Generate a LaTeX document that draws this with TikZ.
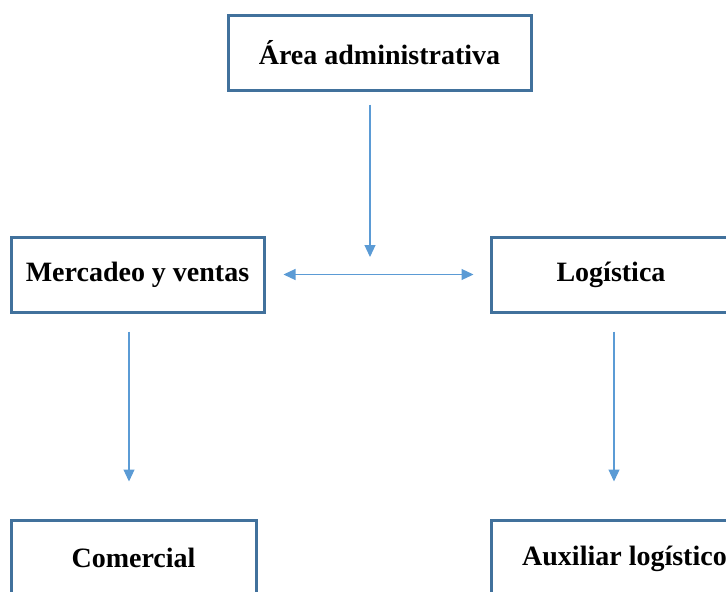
\documentclass[tikz,border=0pt]{standalone}
\usepackage{fontspec}
\setmainfont{Liberation Serif}
\usetikzlibrary{arrows.meta}
\definecolor{boxblue}{HTML}{41719C}
\definecolor{arrowblue}{HTML}{5B9BD5}
\begin{document}
\begin{tikzpicture}[x=1pt,y=-1pt,
  orgbox/.style={draw=boxblue,line width=3pt,fill=white,rectangle,inner sep=0pt,
    font=\fontsize{28}{32}\selectfont\bfseries},
  conn/.style={draw=arrowblue,line width=1.2pt,-{Triangle[length=12pt,width=11pt]}},
  conn2/.style={draw=arrowblue,line width=1.2pt,{Triangle[length=12pt,width=11pt]}-{Triangle[length=12pt,width=11pt]}}]
\useasboundingbox (0,0) rectangle (726,592);
\clip (0,0) rectangle (726,592);
\node[orgbox,minimum width=303pt,minimum height=75pt] (top) at (379.5,52.5) {Área administrativa};
\node[orgbox,minimum width=253pt,minimum height=75pt] (merc) at (137.5,274.5) {Mercadeo y ventas};
\node[orgbox,minimum width=240pt,minimum height=75pt] (log) at (611,274.5) {Logística};
\node[orgbox,minimum width=245pt,minimum height=75pt] (com) at (133.5,557.5) {Comercial};
\node[orgbox,minimum width=300pt,minimum height=75pt] (aux) at (641,557.5) {};
\node[font=\fontsize{28}{32}\selectfont\bfseries,anchor=west,inner sep=0pt] (auxt) at (522,558.5) {Auxiliar logístico};
\coordinate (j) at (370,274);
\coordinate (cl) at (129,300);
\coordinate (cr) at (614,300);
\draw[conn] ([yshift=-13pt]top.south -| j) -- ([yshift=17pt]j);
\draw[conn2] ([xshift=18pt]merc.east) -- ([xshift=-16pt]log.west);
\draw[conn] ([yshift=-18pt]merc.south -| cl) -- ([yshift=37pt]com.north -| cl);
\draw[conn] ([yshift=-18pt]log.south -| cr) -- ([yshift=37pt]aux.north -| cr);
\end{tikzpicture}
\end{document}
